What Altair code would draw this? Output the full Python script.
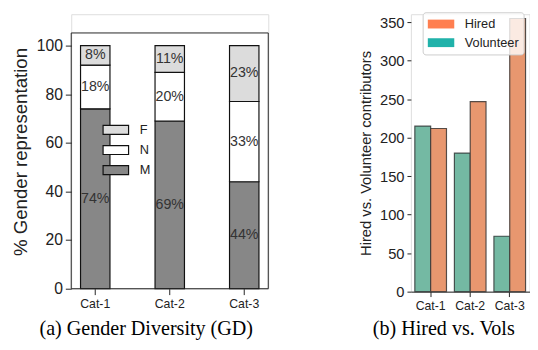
import altair as alt
import pandas as pd

categories = ["Cat-1", "Cat-2", "Cat-3"]
pct_M = [74, 69, 44]
pct_N = [18, 20, 33]
pct_F = [8, 11, 23]
volunteer = [215, 180, 72]
hired = [212, 247, 355]
y_frame_low = [0]        # framed left axes: lower limit
y_frame_high = [105.2]   # framed left axes: upper limit

SANS = "Liberation Sans"
SERIF = "Liberation Serif"
YTITLE_L = "% Gender representation"

# ---- left data (stacked percentages) ----
rows = []
for i, c in enumerate(categories):
    start = 0
    for g, vals in (("M", pct_M), ("N", pct_N), ("F", pct_F)):
        v = vals[i]
        rows.append({"cat": c, "gender": g, "start": start, "end": start + v,
                     "mid": start + v / 2, "label": f"{v}%"})
        start += v
dfg = pd.DataFrame(rows)

yscale_l = alt.Scale(domain=[0, 112.9], nice=False)
xl = alt.X("cat:N", scale=alt.Scale(domain=categories, paddingInner=0.605, paddingOuter=0.125),
           axis=alt.Axis(title="(a) Gender Diversity (GD)", titleFont=SERIF, titleFontSize=20.5,
                         titleFontWeight="normal", titleColor="black", titleX=76, titleY=47,
                         titleAlign="center", titleBaseline="alphabetic",
                         labelAngle=0, labelFont=SANS, labelFontSize=12.5, labelColor="#222",
                         labelPadding=3, domain=False, tickSize=6, tickColor="#222", grid=False))
yl = alt.Y("start:Q", scale=yscale_l,
           axis=alt.Axis(title=YTITLE_L, titleFont=SANS, titleFontSize=19,
                         titleFontWeight="normal", titleColor="#222", titlePadding=6,
                         values=[0, 20, 40, 60, 80, 100], labelFont=SANS, labelFontSize=16,
                         labelColor="#222", labelPadding=3, domain=False, tickSize=6,
                         tickColor="#222", grid=False))

bars_l = alt.Chart(dfg).mark_bar(stroke="#111", strokeWidth=1.2).encode(
    x=xl, y=yl, y2="end:Q",
    color=alt.Color("gender:N",
                    scale=alt.Scale(domain=["F", "N", "M"], range=["#dcdcdc", "#ffffff", "#878787"]),
                    legend=alt.Legend(orient="none", legendX=38, legendY=110.5, title=None,
                                      symbolType="M-2,-0.7H2V0.7H-2Z", symbolSize=169,
                                      symbolStrokeColor="#111", symbolStrokeWidth=1.2,
                                      labelFont=SANS, labelFontSize=13, labelColor="#222",
                                      labelOffset=17, rowPadding=5.5, padding=0)),
)
text_l = alt.Chart(dfg).mark_text(font=SANS, fontSize=14.5, color="#333").encode(
    x=alt.X("cat:N"), y=alt.Y("mid:Q", title=YTITLE_L), text="label:N")
frame_l = alt.Chart(pd.DataFrame({"low": y_frame_low, "high": y_frame_high})).mark_rect(
    fillOpacity=0, stroke="#222", strokeWidth=1).encode(
    x=alt.value(0), x2=alt.value("width"),
    y=alt.Y("low:Q", title=YTITLE_L), y2="high:Q")

left = alt.layer(bars_l, text_l, frame_l).properties(width=201, height=280)

# ---- right data (grouped bars) ----
rows = []
for i, c in enumerate(categories):
    rows.append({"cat": c, "type": "Volunteer", "value": volunteer[i]})
    rows.append({"cat": c, "type": "Hired", "value": hired[i]})
dfh = pd.DataFrame(rows)

xr = alt.X("cat:N", scale=alt.Scale(domain=categories, paddingInner=0.2, paddingOuter=0.1),
           axis=alt.Axis(title="(b) Hired vs. Vols", titleFont=SERIF, titleFontSize=20.5,
                         titleFontWeight="normal", titleColor="black", titleX=33, titleY=44,
                         titleAlign="center", titleBaseline="alphabetic",
                         labelAngle=0, labelFont=SANS, labelFontSize=12.5, labelColor="#222",
                         labelPadding=3, domain=True, domainColor="#222", tickSize=5,
                         tickColor="#222", grid=False))
yr = alt.Y("value:Q", scale=alt.Scale(domain=[0, 360.5], nice=False),
           axis=alt.Axis(title="Hired vs. Volunteer contributors", titleFont=SANS, titleFontSize=15,
                         titleFontWeight="normal", titleColor="#222", titlePadding=6,
                         values=[0, 50, 100, 150, 200, 250, 300, 350], labelFont=SANS,
                         labelFontSize=15, labelColor="#222", labelPadding=3, domain=False,
                         tickSize=4, tickColor="#222", grid=False))
xo = alt.XOffset("type:N", scale=alt.Scale(domain=["Volunteer", "Hired"], paddingInner=0))

legend_layer = alt.Chart(dfh).mark_bar().encode(
    x=xr, y=yr, xOffset=xo,
    fill=alt.Fill("type:N",
                  scale=alt.Scale(domain=["Hired", "Volunteer"], range=["#ff7f50", "#20b2aa"]),
                  legend=alt.Legend(orient="none", legendX=12, legendY=-2, title=None,
                                    symbolType="M-1,-0.67H3V0.67H-1Z", symbolSize=182,
                                    symbolStrokeWidth=0, labelFont=SANS, labelFontSize=13,
                                    labelColor="#222", labelOffset=24, rowPadding=5, padding=5,
                                    fillColor="rgba(255,255,255,0.8)", strokeColor="#cccccc",
                                    cornerRadius=3)),
)
bars_r = alt.Chart(dfh).mark_bar(stroke="#3a3a3a", strokeWidth=1.2, strokeOpacity=0.85).encode(
    x=xr, y=yr, xOffset=xo,
    color=alt.Color("type:N",
                    scale=alt.Scale(domain=["Hired", "Volunteer"], range=["#e8976f", "#74b9a3"]),
                    legend=None),
)
right = alt.layer(legend_layer, bars_r).properties(width=121, height=283)

chart = alt.hconcat(left, right, spacing=90.5).resolve_scale(
    color="independent", fill="independent"
).resolve_legend(
    color="independent", fill="independent"
).properties(
    padding={"left": 2.5, "top": 0, "right": 0, "bottom": 0}
).configure_view(stroke="transparent").configure(background="white")

chart.save("out.html", embed_options={"renderer": "svg", "actions": False})
